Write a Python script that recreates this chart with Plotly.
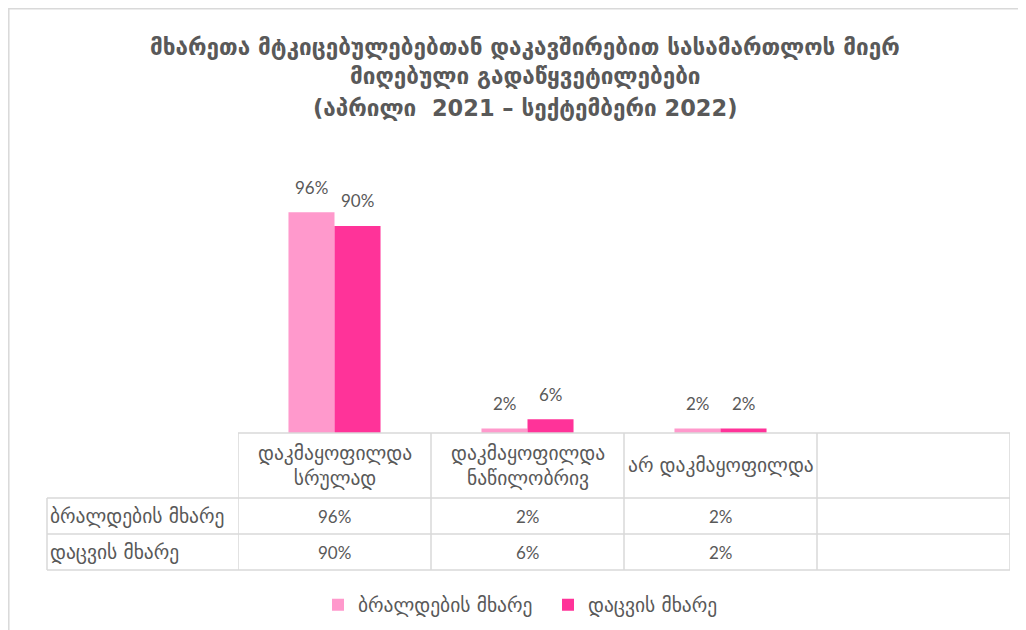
import plotly.graph_objects as go

# page has an 8px body margin; figure fills the rest of the 1026x630 window
OFF = 8
W, H = 1026 - OFF, 630 - OFF

title_lines = ["მხარეთა მტკიცებულებებთან დაკავშირებით სასამართლოს მიერ",
               "მიღებული გადაწყვეტილებები",
               "(აპრილი  2021 – სექტემბერი 2022)"]
categories = ["დაკმაყოფილდა სრულად", "დაკმაყოფილდა ნაწილობრივ", "არ დაკმაყოფილდა"]
category_labels = ["დაკმაყოფილდა<br>სრულად", "დაკმაყოფილდა<br>ნაწილობრივ", "არ დაკმაყოფილდა"]
empty_category = " "
series_names = ["ბრალდების მხარე", "დაცვის მხარე"]
prosecution = [0.96, 0.02, 0.02]
defense = [0.90, 0.06, 0.02]
series_values = [prosecution, defense]
colors = ["#FF99CC", "#FF3399"]

TXT = "#595959"
GRID = "#D9D9D9"
FONT = "Lato, DejaVu Sans, sans-serif"
GEO = 19.5
NUM = 17


def px_x(p):
    return (p - OFF) / W


def px_y(p):
    return 1 - (p - OFF) / H


all_cats = categories + [empty_category]

fig = go.Figure()
for name, vals, col in zip(series_names, series_values, colors):
    fig.add_trace(go.Bar(
        x=categories, y=vals, name=name, marker=dict(color=col, line=dict(width=0)),
        hoverinfo="skip",
    ))

x0_px, x1_px = 238, 1010
base_px = 433
fig.update_layout(
    width=W, height=H,
    margin=dict(l=0, r=0, t=0, b=0),
    paper_bgcolor="white", plot_bgcolor="white",
    font=dict(family=FONT, color=TXT, size=NUM),
    barmode="group", bargap=0.523, bargroupgap=0,
    xaxis=dict(domain=[px_x(x0_px), px_x(x1_px)], type="category",
               categoryorder="array", categoryarray=all_cats,
               range=[-0.5, len(all_cats) - 0.5], showticklabels=False,
               showgrid=False, zeroline=False, showline=False, ticks=""),
    yaxis=dict(domain=[px_y(base_px), px_y(157)], range=[0, 1.2], visible=False),
    showlegend=True,
    legend=dict(orientation="h", x=px_x(318), xanchor="left", y=px_y(605), yanchor="middle",
                font=dict(size=GEO, color=TXT, family="DejaVu Sans, sans-serif"),
                traceorder="normal", itemwidth=30, entrywidth=185, entrywidthmode="pixels"),
)

# title, one annotation per line
for line_text, ypx in zip(title_lines, [47, 76, 108]):
    fig.add_annotation(
        text="<b>" + line_text + "</b>", xref="paper", yref="paper",
        x=px_x(525), y=px_y(ypx), xanchor="center", yanchor="middle",
        showarrow=False, font=dict(family="DejaVu Sans, sans-serif", size=22.5, color=TXT),
    )

# data labels
offsets = [-23, 23]
for vals, dx in zip(series_values, offsets):
    for c, v in zip(categories, vals):
        fig.add_annotation(x=c, y=v, xref="x", yref="y", text=f"{round(v*100)}%",
                           showarrow=False, xshift=dx, yshift=25, yanchor="middle",
                           font=dict(size=NUM, color=TXT))

# data table
row_tops = [433, 498, 534, 570]
label_left = 47
shapes = []
line = dict(color=GRID, width=1.5)
shapes.append(dict(type="line", xref="x", yref="paper", x0=-0.5, x1=len(all_cats) - 0.5,
                   y0=px_y(row_tops[0]), y1=px_y(row_tops[0]), line=line))
for yy in row_tops[1:]:
    shapes.append(dict(type="line", xref="paper", yref="paper", x0=px_x(label_left), x1=px_x(x1_px),
                       y0=px_y(yy), y1=px_y(yy), line=line))
shapes.append(dict(type="line", xref="paper", yref="paper", x0=px_x(label_left), x1=px_x(label_left),
                   y0=px_y(row_tops[1]), y1=px_y(row_tops[-1]), line=line))
for i in range(len(all_cats) + 1):
    xv = i - 0.5
    shapes.append(dict(type="line", xref="x", yref="paper", x0=xv, x1=xv,
                       y0=px_y(row_tops[0]), y1=px_y(row_tops[-1]), line=line))
# outer chart border (continues beyond the window on right/bottom)
shapes.append(dict(type="rect", xref="paper", yref="paper", x0=px_x(8.8), x1=px_x(1040),
                   y0=px_y(640), y1=px_y(8.8), line=dict(color=GRID, width=1.5)))
fig.update_layout(shapes=shapes)

for c, lab in zip(categories, category_labels):
    fig.add_annotation(x=c, y=px_y((row_tops[0] + row_tops[1]) / 2), xref="x", yref="paper",
                       text=lab, showarrow=False,
                       font=dict(size=GEO, color=TXT, family="DejaVu Sans, sans-serif"),
                       yanchor="middle", xanchor="center")
for r, (name, vals) in enumerate(zip(series_names, series_values)):
    ymid = px_y((row_tops[r + 1] + row_tops[r + 2]) / 2)
    fig.add_annotation(x=px_x(label_left + 1), y=ymid, xref="paper", yref="paper", text=name,
                       showarrow=False, xanchor="left", yanchor="middle",
                       font=dict(size=GEO, color=TXT, family="DejaVu Sans, sans-serif"))
    for c, v in zip(categories, vals):
        fig.add_annotation(x=c, y=ymid, xref="x", yref="paper", text=f"{round(v*100)}%",
                           showarrow=False, xanchor="center", yanchor="middle",
                           font=dict(size=NUM, color=TXT))

fig.write_html("out.html")
